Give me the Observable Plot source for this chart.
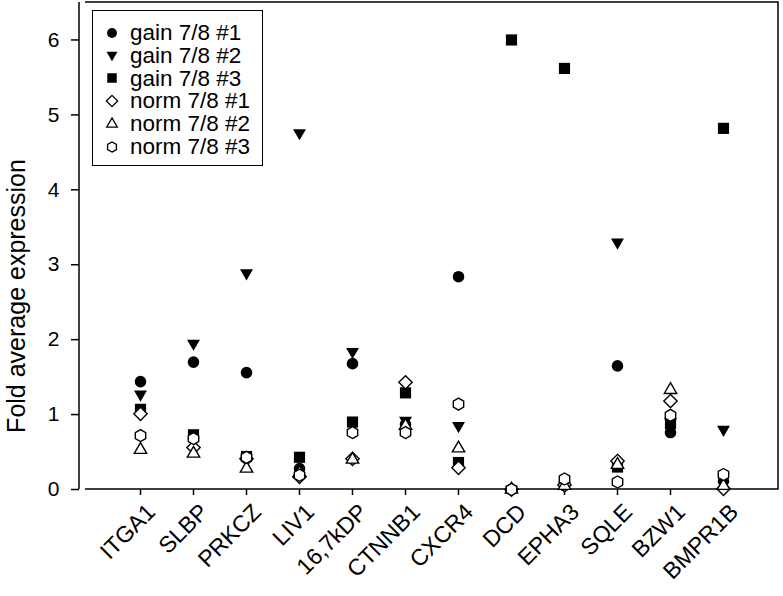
<!DOCTYPE html>
<html><head><meta charset="utf-8">
<script src="https://cdn.jsdelivr.net/npm/d3@7"></script>
<script src="https://cdn.jsdelivr.net/npm/@observablehq/plot@0.6"></script>
<style>
body{margin:0;background:#fff;}
#chart{position:relative;width:783px;height:596px;font-family:"Liberation Sans",Arial,Helvetica,sans-serif;}
#legend{position:absolute;left:92px;top:10px;width:171px;height:156px;border:1.5px solid #000;box-sizing:border-box;background:#fff;}
.row{position:absolute;left:0;height:21px;line-height:21px;display:flex;align-items:center;font-size:22.5px;color:#000;white-space:nowrap;}
.row span{display:inline-block;height:21px;line-height:21px;}
.row svg{margin-left:12px;margin-right:11px;}
</style></head><body><div id="chart"></div>
<script>
// ---- data ----
const genes = ["ITGA1","SLBP","PRKCZ","LIV1","16,7kDP","CTNNB1","CXCR4","DCD","EPHA3","SQLE","BZW1","BMPR1B"];
const seriesNames = ["gain 7/8 #1","gain 7/8 #2","gain 7/8 #3","norm 7/8 #1","norm 7/8 #2","norm 7/8 #3"];
const gain1 = [1.44, 1.70, 1.56, 0.28, 1.68, 0.87, 2.84, 0.00, 0.05, 1.65, 0.76, 0.11];
const gain2 = [1.27, 1.95, 2.89, 4.76, 1.84, 0.92, 0.85, 0.00, 0.05, 3.30, 0.90, 0.80];
const gain3 = [1.07, 0.73, 0.44, 0.43, 0.90, 1.29, 0.36, 6.00, 5.62, 0.30, 0.88, 4.82];
const norm1 = [1.01, 0.56, 0.41, 0.17, 0.41, 1.43, 0.29, 0.00, 0.06, 0.38, 1.18, 0.01];
const norm2 = [0.53, 0.48, 0.28, 0.22, 0.40, 0.85, 0.55, 0.00, 0.05, 0.33, 1.33, 0.05];
const norm3 = [0.72, 0.68, 0.43, 0.19, 0.76, 0.76, 1.14, 0.00, 0.14, 0.10, 0.99, 0.20];
const yTicks = [0, 1, 2, 3, 4, 5, 6];
const yLabel = "Fold average expression";

// ---- symbols ----
const sqrt3 = Math.sqrt(3);
const triangleDown = {draw(ctx, size) {
  const y = -Math.sqrt(size / (sqrt3 * 3));
  ctx.moveTo(0, -y * 2); ctx.lineTo(-sqrt3 * y, y); ctx.lineTo(sqrt3 * y, y); ctx.closePath();
}};
const hexagon = {draw(ctx, size) {
  const rs = Math.sqrt(size / Math.PI), hr = rs * sqrt3 / 2;
  ctx.moveTo(0, rs); ctx.lineTo(hr, rs / 2); ctx.lineTo(hr, -rs / 2); ctx.lineTo(0, -rs);
  ctx.lineTo(-hr, -rs / 2); ctx.lineTo(-hr, rs / 2); ctx.closePath();
}};
const symbols = [d3.symbolCircle, triangleDown, d3.symbolSquare, d3.symbolDiamond2, d3.symbolTriangle, hexagon];
const radii = [5.8, 4.8, 6.3, 6, 4.6, 6];
const filled = [true, true, true, false, false, false];
const allSeries = [gain1, gain2, gain3, norm1, norm2, norm3];

const rows = [];
allSeries.forEach((vals, si) => vals.forEach((v, gi) => rows.push({gene: genes[gi], series: seriesNames[si], value: v})));

// frame: top/right/bottom box + offset y-axis line
function frameLines(index, scales, values, dims) {
  const {width, height, marginLeft, marginRight, marginTop, marginBottom} = dims;
  const l = marginLeft, r = width - marginRight, t = marginTop, b = height - marginBottom;
  const g = d3.create("svg:g").attr("fill", "none").attr("stroke", "#000").attr("stroke-width", 1.5);
  g.append("path").attr("d", `M${l},${t}H${r}V${b}H${l}`);
  g.append("line").attr("x1", l - 6).attr("x2", l - 6).attr("y1", t).attr("y2", b);
  return g.node();
}

const dotMarks = seriesNames.map((name, si) => Plot.dot(rows.filter(d => d.series === name), {
  x: "gene", y: "value", symbol: () => symbols[si], r: radii[si],
  fill: filled[si] ? "#000" : "#fff", stroke: filled[si] ? "none" : "#000", strokeWidth: 1.4
}));

const plot = Plot.plot({
  width: 783, height: 596,
  marginLeft: 85, marginRight: 5, marginTop: 2, marginBottom: 107,
  style: {fontFamily: '"Liberation Sans", Arial, Helvetica, sans-serif', background: "#fff", color: "#000"},
  x: {type: "point", domain: genes, padding: 1},
  y: {domain: [0, 6.5]},
  marks: [
    frameLines,
    Plot.axisY({ticks: yTicks, tickFormat: d3.format("d"), tickSize: 8, dx: -6, tickPadding: 12, fontSize: 21, label: null, strokeWidth: 1.5}),
    Plot.axisX({tickSize: 6, tickFormat: () => "", label: null, strokeWidth: 1.5}),
    Plot.text(genes, {x: d => d, text: d => d, frameAnchor: "bottom", rotate: -45, textAnchor: "end", dx: 16, dy: 24, fontSize: 23}),
    Plot.text([yLabel], {text: d => d, frameAnchor: "left", textAnchor: "middle", rotate: -90, dx: -69, dy: 50, fontSize: 25}),
    ...dotMarks
  ]
});
const chart = document.getElementById("chart");
chart.appendChild(plot);

// legend
const legend = document.createElement("div");
legend.id = "legend";
seriesNames.forEach((name, i) => {
  const row = document.createElement("div");
  row.className = "row";
  row.style.top = (11 + i * 22.8) + "px";
  const s = d3.create("svg").attr("width", 14).attr("height", 14).attr("viewBox", "-7 -7 14 14");
  s.append("path").attr("d", d3.symbol(symbols[i], Math.pow(radii[i] * 0.85, 2) * Math.PI)())
    .attr("fill", filled[i] ? "#000" : "#fff").attr("stroke", filled[i] ? "none" : "#000").attr("stroke-width", 1.3);
  row.appendChild(s.node());
  const t = document.createElement("span");
  t.textContent = name;
  row.appendChild(t);
  legend.appendChild(row);
});
chart.appendChild(legend);
</script>
</body></html>
